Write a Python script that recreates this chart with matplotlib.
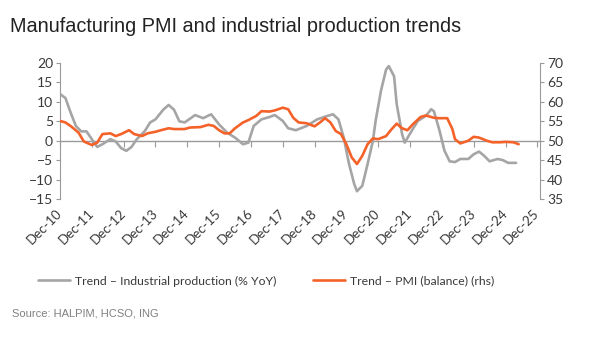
import matplotlib
matplotlib.use("Agg")
from matplotlib import pyplot as plt
import matplotlib.dates as mdates
import pandas as pd

# Trend - Industrial production (% YoY), left axis
ip_dates = ["2010-12", "2011-02", "2011-04", "2011-06", "2011-08", "2011-10", "2011-12",
            "2012-02", "2012-04", "2012-07", "2012-09", "2012-11", "2013-01", "2013-03",
            "2013-05", "2013-08", "2013-10", "2013-12", "2014-03", "2014-05", "2014-07",
            "2014-09", "2014-11", "2015-03", "2015-06", "2015-09", "2015-12", "2016-03",
            "2016-06", "2016-09", "2016-11", "2017-01", "2017-04", "2017-07", "2017-09",
            "2017-12", "2018-02", "2018-05", "2018-09", "2019-01", "2019-05", "2019-07",
            "2019-09", "2019-11", "2020-01", "2020-03", "2020-04", "2020-06", "2020-08",
            "2020-10", "2020-11", "2021-01", "2021-03", "2021-04", "2021-06", "2021-07",
            "2021-09", "2021-10", "2022-01", "2022-03", "2022-06", "2022-08", "2022-09",
            "2022-11", "2023-01", "2023-03", "2023-05", "2023-07", "2023-10", "2023-12",
            "2024-02", "2024-04", "2024-06", "2024-09", "2024-11", "2025-01", "2025-04"]
ip_vals = [12.0, 11.0, 7.3, 3.8, 2.4, 2.4, 0.4,
           -1.6, -0.9, 0.4, -0.2, -1.9, -2.6, -1.6,
           0.4, 2.5, 4.7, 5.5, 8.0, 9.2, 8.0,
           5.0, 4.7, 6.6, 5.8, 6.8, 4.2, 2.1,
           0.8, -0.9, -0.5, 3.8, 5.5, 6.1, 6.6,
           5.1, 3.2, 2.7, 3.8, 5.5, 6.4, 6.8,
           5.5, 0.8, -6.0, -11.2, -13.0, -11.6, -6.0,
           0.0, 5.1, 12.8, 18.3, 19.2, 16.6, 9.4,
           1.7, -0.5, 3.0, 5.1, 6.4, 8.1, 7.6,
           2.9, -2.6, -5.3, -5.5, -4.7, -4.7, -3.5,
           -2.8, -3.9, -5.3, -4.7, -5.0, -5.7, -5.7]

# Trend - PMI (balance), right axis
pmi_dates = ["2010-12", "2011-02", "2011-04", "2011-07", "2011-09", "2011-12", "2012-02",
             "2012-04", "2012-07", "2012-09", "2012-11", "2013-02", "2013-04", "2013-07",
             "2013-09", "2013-12", "2014-02", "2014-05", "2014-07", "2014-11", "2015-01",
             "2015-05", "2015-08", "2015-10", "2015-12", "2016-02", "2016-04", "2016-06",
             "2016-09", "2016-11", "2017-02", "2017-04", "2017-07", "2017-09", "2017-12",
             "2018-02", "2018-04", "2018-06", "2018-09", "2018-12", "2019-02", "2019-04",
             "2019-06", "2019-08", "2019-10", "2019-12", "2020-02", "2020-04", "2020-06",
             "2020-08", "2020-10", "2020-12", "2021-03", "2021-05", "2021-07", "2021-09",
             "2021-11", "2022-01", "2022-04", "2022-06", "2022-09", "2022-11", "2023-02",
             "2023-04", "2023-05", "2023-07", "2023-10", "2023-12", "2024-02", "2024-05",
             "2024-07", "2024-10", "2024-12", "2025-03", "2025-05"]
pmi_vals = [55.1, 54.7, 53.8, 52.1, 49.8, 48.9, 49.5,
            51.7, 51.9, 51.2, 51.7, 52.7, 51.7, 51.2,
            51.9, 52.3, 52.7, 53.2, 53.0, 53.0, 53.4,
            53.5, 54.1, 53.8, 52.7, 51.9, 51.9, 53.2,
            54.7, 55.3, 56.4, 57.6, 57.5, 57.8, 58.5,
            58.1, 55.9, 54.7, 54.5, 53.7, 54.7, 55.8,
            54.7, 52.5, 51.7, 49.1, 45.7, 44.0, 46.1,
            49.1, 50.6, 50.4, 51.2, 52.9, 54.4, 53.2,
            52.7, 54.2, 56.1, 56.5, 55.9, 55.8, 55.8,
            53.0, 50.4, 49.3, 50.0, 51.0, 50.8, 50.0,
            49.6, 49.6, 49.7, 49.6, 49.1]

tick_dates = pd.date_range("2010-12-01", "2025-12-01", freq="12MS")
tick_labels = [d.strftime("%b-%y") for d in tick_dates]

GREY = "#A5A5A5"
ORANGE = "#F4622A"
AXC = "#9A9A9A"
TXT = "#3a3a3a"
FONT = ["Lato", "DejaVu Sans"]

plt.rcParams["font.family"] = FONT

fig = plt.figure(figsize=(5.92, 3.39), dpi=100)
ax = fig.add_axes([60/592, 1-199/339, 480/592, 136/339])
ax2 = ax.twinx()

x_ip = mdates.date2num(pd.to_datetime(ip_dates))
x_pmi = mdates.date2num(pd.to_datetime(pmi_dates))
xt = mdates.date2num(tick_dates)

l1, = ax.plot(x_ip, ip_vals, color=GREY, lw=1.9, solid_capstyle="round")
l2, = ax2.plot(x_pmi, pmi_vals, color=ORANGE, lw=1.9, solid_capstyle="round")
ax2.set_zorder(ax.get_zorder() + 1)

ax.set_xlim(xt[0], mdates.date2num(pd.Timestamp("2026-01-01")))
ax.set_ylim(-15, 20)
ax2.set_ylim(35, 70)
ax.set_yticks(range(-15, 21, 5))
ax2.set_yticks(range(35, 71, 5))

ax.set_xticks(xt)
ax.set_xticklabels(tick_labels, rotation=45, ha="right", va="center",
                   rotation_mode="anchor", fontsize=9.5, color=TXT)
ax.tick_params(axis="x", length=0, pad=9)
ax.tick_params(axis="y", length=3, color=AXC, labelsize=10, labelcolor=TXT, pad=2)
ax2.tick_params(axis="y", length=3, color=AXC, labelsize=10, labelcolor=TXT, pad=2)

for a in (ax, ax2):
    a.spines["top"].set_visible(False)
    a.spines["bottom"].set_visible(False)
    a.spines["left"].set_color(AXC)
    a.spines["right"].set_color(AXC)
ax.spines["right"].set_visible(False)
ax2.spines["left"].set_visible(False)

# zero line with its own tick marks
sec = ax.secondary_xaxis(15/35)
sec.set_xticks(xt)
sec.tick_params(axis="x", direction="out", length=4, color=AXC, labelbottom=False)
sec.spines["bottom"].set_color(AXC)
sec.spines["bottom"].set_linewidth(1.0)

fig.text(10/592, 1-27/339, "Manufacturing PMI and industrial production trends",
         fontsize=14.3, color="#222222", va="center", family=["Liberation Sans", "DejaVu Sans"])
fig.text(12/592, 1-313/339, "Source: HALPIM, HCSO, ING", fontsize=8.0, color="#808080",
         va="center", family=["Liberation Sans", "DejaVu Sans"])

fig.legend([l1, l2], ["Trend \u2013 Industrial production (% YoY)", "Trend \u2013 PMI (balance) (rhs)"],
           loc="center", bbox_to_anchor=(266/592, 1-281/339), ncol=2, frameon=False,
           fontsize=8.8, handlelength=2.6, handletextpad=0.4, columnspacing=3.0,
           labelcolor=TXT)

fig.savefig("out.png", dpi=100)
